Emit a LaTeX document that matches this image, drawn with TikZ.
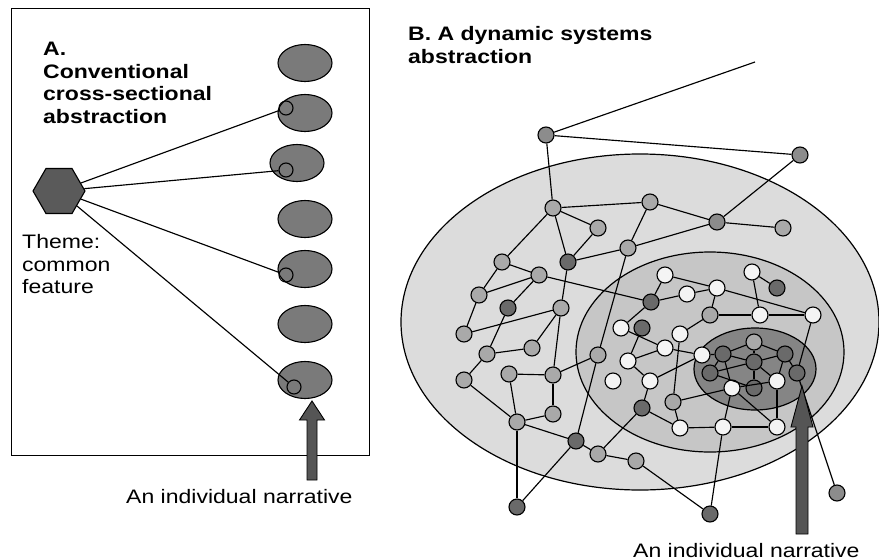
\documentclass[tikz,border=0pt]{standalone}
\usepackage{fontspec}
\usetikzlibrary{shapes.geometric}
\newfontfamily\hv[FakeStretch=1.18]{Liberation Sans}
\definecolor{cBig}{HTML}{DCDCDC}
\definecolor{cMid}{HTML}{C6C6C6}
\definecolor{cDark}{HTML}{858585}
\definecolor{nW}{HTML}{F4F4F4}
\definecolor{nL}{HTML}{A9A9A9}
\definecolor{nM}{HTML}{8C8C8C}
\definecolor{nDk}{HTML}{6A6A6A}
\definecolor{cLeft}{HTML}{7A7A7A}
\definecolor{cHex}{HTML}{5A5A5A}
\definecolor{cArrow}{HTML}{555555}
\tikzset{
  net/.style={circle, draw=black, line width=1.1pt, minimum size=16pt, inner sep=0pt},
  nw/.style={net, fill=nW},
  nl/.style={net, fill=nL},
  nm/.style={net, fill=nM},
  nd/.style={net, fill=nDk},
  edge/.style={draw=black, line width=1.15pt},
  lell/.style={ellipse, draw=black, line width=1.1pt, fill=cLeft, minimum width=54pt, minimum height=37pt, inner sep=0pt},
  smallc/.style={circle, draw=black, line width=1.1pt, minimum size=14pt, inner sep=0pt},
  txt/.style={font=\hv\fontsize{19.5}{22.7}\selectfont, anchor=base west, inner sep=0pt},
  btxt/.style={font=\hv\bfseries\fontsize{19.5}{22.7}\selectfont, anchor=base west, inner sep=0pt},
  zone/.style={draw=black, line width=1.2pt},
  fatarrow/.style={draw=black, line width=0.9pt, fill=cArrow},
}
\begin{document}
\begin{tikzpicture}[x=1pt,y=-1pt]
\useasboundingbox (0,0) rectangle (879,560);
% ---------------- Panel A ----------------
\node[draw=black, line width=1.1pt, minimum width=358pt, minimum height=447pt, anchor=north west, inner sep=0pt] (frameA) at (11,8) {};
\node[btxt] (tA1) at (43,55) {A.};
\node[btxt] (tA2) at (43,78) {Conventional};
\node[btxt] (tA3) at (43,100.5) {cross-sectional};
\node[btxt] (tA4) at (43,123) {abstraction};
\node[txt] (tT1) at (22,248) {Theme:};
\node[txt] (tT2) at (22,271) {common};
\node[txt] (tT3) at (22,293.5) {feature};

\node[regular polygon, regular polygon sides=6, minimum size=52pt, inner sep=0pt, draw=black, line width=1.1pt, fill=cHex] (hex) at (59,191) {};

\node[lell] (e1) at (305,63) {};
\node[lell] (e2) at (305,113) {};
\node[lell] (e3) at (297,163) {};
\node[lell] (e4) at (305,219) {};
\node[lell] (e5) at (305,269) {};
\node[lell] (e6) at (305,324) {};
\node[lell] (e7) at (305,380) {};
\node[smallc] (s2) at (286,108) {};
\node[smallc] (s3) at (286,170) {};
\node[smallc] (s5) at (286,275) {};
\node[smallc] (s7) at (294,387) {};
\draw[edge] (hex) -- (s2);
\draw[edge] (hex) -- (s3);
\draw[edge] (hex) -- (s5);
\draw[edge] (hex) -- (s7);

\coordinate (la) at (312,401);
\draw[fatarrow] (la) -- ++(12.5,19) -- ++(-7.5,0) -- ++(0,60) -- ++(-10,0) -- ++(0,-60) -- ++(-7.5,0) -- cycle;
\node[txt] (nA) at (126,503) {An individual narrative};

% ---------------- Panel B ----------------
\node[btxt] (tB1) at (408,40) {B. A dynamic systems};
\node[btxt] (tB2) at (408,63) {abstraction};

\draw[zone, fill=cBig] (640,322) ellipse [x radius=239, y radius=168];
\draw[zone, fill=cMid] (710,352) ellipse [x radius=134, y radius=100];
\draw[zone, fill=cDark] (755,369) ellipse [x radius=61, y radius=41];

\coordinate (free) at (755,62);
\node[nm] (n1) at (546,135) {};
\node[nm] (n2) at (800,155) {};
\node[nl] (n3) at (553,208) {};
\node[nl] (n4) at (650,202) {};
\node[nm] (n5) at (717,222) {};
\node[nl] (n6) at (783,228) {};
\node[nl] (n7) at (598,228) {};
\node[nl] (n8) at (628,248) {};
\node[nd] (n9) at (568,262) {};
\node[nl] (n10) at (502,262) {};
\node[nl] (n11) at (539,275) {};
\node[nl] (n12) at (479,295) {};
\node[nd] (n13) at (508,308) {};
\node[nl] (n14) at (561,308) {};
\node[nd] (n15) at (651,302) {};
\node[nl] (n16) at (464,334) {};
\node[nl] (n17) at (532,348) {};
\node[nl] (n18) at (487,354) {};
\node[nl] (n19) at (598,355) {};
\node[nl] (n20) at (464,380) {};
\node[nl] (n21) at (509,374) {};
\node[nl] (n22) at (553,375) {};
\node[nl] (n23) at (553,414) {};
\node[nl] (n24) at (517,422) {};
\node[nd] (n25) at (576,441) {};
\node[nl] (n26) at (598,454) {};
\node[nl] (n27) at (636,461) {};
\node[nd] (n28) at (517,507) {};
\node[nd] (n29) at (710,514) {};
\node[nm] (n30) at (837,493) {};
\node[nw] (n31) at (665,275) {};
\node[nw] (n32) at (752,272) {};
\node[nd] (n33) at (777,288) {};
\node[nw] (n34) at (687,294) {};
\node[nw] (n35) at (717,288) {};
\node[nl] (n36) at (710,315) {};
\node[nw] (n37) at (760,315) {};
\node[nw] (n38) at (813,315) {};
\node[nw] (n39) at (621,328) {};
\node[nd] (n40) at (642,328) {};
\node[nw] (n41) at (680,334) {};
\node[nw] (n42) at (665,348) {};
\node[nw] (n43) at (702,355) {};
\node[nw] (n44) at (628,361) {};
\node[nw] (n45) at (613,381) {};
\node[nw] (n46) at (650,381) {};
\node[nd] (n47) at (642,408) {};
\node[nl] (n48) at (673,402) {};
\node[nw] (n49) at (680,428) {};
\node[nw] (n50) at (723,427) {};
\node[nw] (n51) at (777,427) {};
\node[nl] (n52) at (754,342) {};
\node[nd] (n53) at (723,354) {};
\node[nd] (n54) at (754,362) {};
\node[nd] (n55) at (785,354) {};
\node[nd] (n56) at (710,373) {};
\node[nd] (n57) at (797,373) {};
\node[nw] (n58) at (732,388) {};
\node[nd] (n59) at (754,388) {};
\node[nw] (n60) at (777,381) {};

\foreach \a/\b in {n1/free,n1/n2,n1/n3,n2/n5,n5/n6,n4/n5,n8/n5,n3/n4,n4/n8,n3/n7,n3/n9,n7/n9,n9/n8,
  n3/n10,n10/n11,n10/n12,n12/n11,n11/n15,n11/n13,n9/n14,n8/n19,n12/n16,n16/n14,n13/n18,n14/n17,
  n18/n17,n18/n20,n14/n22,n21/n22,n22/n19,n22/n23,n21/n24,n24/n23,n20/n24,n24/n25,n24/n28,n25/n28,
  n25/n26,n26/n27,n27/n29,n19/n25,n15/n39,n40/n44,n44/n46,n46/n47,n47/n26,n47/n49,n31/n15,n31/n35,
  n15/n34,n34/n35,n35/n36,n35/n38,n32/n33,n32/n37,n36/n37,n37/n38,n36/n41,n41/n48,n39/n42,n44/n42,
  n42/n43,n46/n43,n43/n53,n48/n58,n48/n49,n49/n50,n50/n51,n50/n58,n51/n58,n51/n60,n50/n29,n38/n57,
  n57/n30,n52/n53,n52/n55,n52/n54,n53/n54,n54/n55,n53/n56,n56/n54,n53/n58,n56/n59,n54/n59,n55/n57,
  n55/n60,n54/n60,n58/n60}
  \draw[edge] (\a) -- (\b);

\coordinate (ra) at (802,386);
\draw[fatarrow] (ra) -- ++(11,41) -- ++(-5,0) -- ++(0,107) -- ++(-12,0) -- ++(0,-107) -- ++(-5,0) -- cycle;
\node[txt] (nB) at (633,557) {An individual narrative};
\end{tikzpicture}
\end{document}
